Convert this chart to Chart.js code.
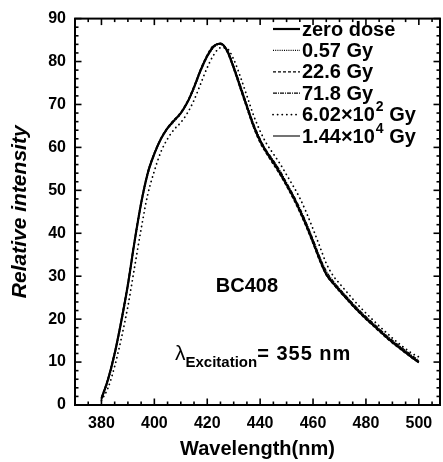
<!DOCTYPE html>
<html>
<head>
<meta charset="utf-8">
<script src="https://cdn.jsdelivr.net/npm/chart.js@4.4.0/dist/chart.umd.min.js"></script>
<style>
  html, body { margin: 0; padding: 0; background: #fff; }
  #lienzo { width: 443px; height: 462px; position: relative; }
</style>
</head>
<body>
<div id="lienzo"><canvas id="grafica"></canvas></div>
<script>
// longitudes de onda (nm)
const longitudes = [380, 382.5, 385, 387.5, 390, 392.5, 395, 397.5, 400, 402.5, 405, 407.5, 410, 412.5, 415, 417.5, 420, 422.5, 425, 427.5, 430, 432.5, 435, 437.5, 440, 442.5, 445, 447.5, 450, 452.5, 455, 457.5, 460, 462.5, 465, 467.5, 470, 472.5, 475, 477.5, 480, 482.5, 485, 487.5, 490, 492.5, 495, 497.5, 500];

// intensidades relativas
const dosisCero = [1.5, 6, 12, 19.5, 28, 38, 47, 54, 58.5, 62, 64.5, 66.3, 68, 70.5, 74, 78, 81.3, 83.6, 84.2, 82.5, 78.5, 74, 69.5, 65, 61.5, 58.8, 56.5, 54, 51.3, 48.5, 45.3, 41.8, 38, 34, 30.5, 28.5, 26.7, 25, 23.3, 21.7, 20.2, 18.8, 17.4, 16, 14.7, 13.5, 12.3, 11.1, 10];
const dosis057 = [1.2, 5.5, 11.5, 19, 27.5, 37.5, 46.5, 53.5, 58.3, 61.8, 64.3, 66, 67.8, 70.3, 73.7, 77.6, 81, 83.3, 84, 82.6, 78.8, 74.3, 69.8, 65.3, 61.8, 59, 56.8, 54.3, 51.6, 48.8, 45.6, 42.2, 38.4, 34.4, 31, 28.8, 27, 25.3, 23.6, 22, 20.5, 19, 17.6, 16.2, 14.9, 13.7, 12.5, 11.3, 10.2];
const dosis226 = [1.8, 6.3, 12.4, 20, 28.6, 38.5, 47.4, 54.3, 58.8, 62.2, 64.7, 66.5, 68.2, 70.8, 74.3, 78.3, 81.6, 83.8, 84, 82.2, 78.2, 73.6, 69, 64.6, 61, 58.4, 56, 53.6, 50.9, 48, 44.8, 41.3, 37.5, 33.5, 30.2, 28.2, 26.4, 24.7, 23, 21.4, 19.9, 18.5, 17.1, 15.7, 14.4, 13.2, 12, 10.9, 9.8];
const dosis718 = [1.4, 5.8, 11.8, 19.3, 27.8, 37.7, 46.8, 53.8, 58.4, 61.9, 64.4, 66.2, 67.9, 70.4, 73.8, 77.8, 81.1, 83.4, 84.1, 82.7, 79, 74.6, 70, 65.6, 62, 59.2, 57, 54.6, 51.8, 49, 45.9, 42.4, 38.6, 34.6, 31.2, 29, 27.1, 25.4, 23.7, 22.1, 20.6, 19.2, 17.8, 16.4, 15.1, 13.9, 12.7, 11.5, 10.4];
const dosis602 = [1, 4, 9, 15.5, 23, 32, 41, 49, 54.5, 59, 62, 64.2, 65.8, 68, 71, 74.8, 78.6, 81.6, 83.2, 83, 80.5, 76.5, 72, 67.5, 63.8, 60.8, 58.5, 56.2, 53.6, 51, 48.2, 44.8, 41, 37, 33, 30.2, 28.3, 26.5, 24.7, 23, 21.4, 19.9, 18.4, 17, 15.6, 14.3, 13.1, 12, 11.2];
const dosis144 = [1.6, 6.2, 12.3, 19.8, 28.3, 38.2, 47.2, 54.2, 58.7, 62.1, 64.6, 66.3, 68, 70.6, 74.1, 78.1, 81.4, 83.6, 84.3, 82.8, 78.9, 74.3, 69.7, 65.2, 61.6, 58.9, 56.6, 54.2, 51.4, 48.6, 45.2, 41.6, 37.8, 33.8, 30.3, 28.3, 26.5, 24.8, 23.1, 21.5, 20, 18.6, 17.2, 15.8, 14.5, 13.3, 12.1, 10.9, 9.8];

// leyenda: texto, exponente, resto
const etiquetas = ['zero dose', '0.57 Gy', '22.6 Gy', '71.8 Gy', '6.02×10', '1.44×10'];
const exponentes = ['', '', '', '', '2', '4'];
const sufijos = ['', '', '', '', ' Gy', ' Gy'];

const ticksX = [380, 400, 420, 440, 460, 480, 500];
const ticksY = [0, 10, 20, 30, 40, 50, 60, 70, 80, 90];

const FUENTE = '"Liberation Sans", Arial, Helvetica, sans-serif';

const series = [dosisCero, dosis057, dosis226, dosis718, dosis602, dosis144];
const estilos = [
  { borderWidth: 2.2, borderDash: [] },
  { borderWidth: 1.2, borderDash: [1, 1.2] },
  { borderWidth: 1.2, borderDash: [3, 2] },
  { borderWidth: 1.2, borderDash: [4, 1, 1, 1] },
  { borderWidth: 1.8, borderDash: [0.1, 4.5], borderCapStyle: 'round' },
  { borderWidth: 1.1, borderDash: [] },
];

const datasets = series.map((valores, i) => ({
  label: etiquetas[i] + exponentes[i] + sufijos[i],
  data: longitudes.map((nm, k) => ({ x: nm, y: valores[k] })),
  borderColor: '#000',
  backgroundColor: '#000',
  pointRadius: 0,
  fill: false,
  cubicInterpolationMode: 'monotone',
  ...estilos[i],
}));

// marcas hacia dentro, marco, leyenda y anotaciones
const decoracion = {
  id: 'decoracion',
  afterDatasetsDraw(chart) {
    const { ctx, chartArea: a, scales: { x, y } } = chart;
    ctx.save();
    ctx.strokeStyle = '#000';
    ctx.fillStyle = '#000';

    const linea = (x1, y1, x2, y2) => {
      ctx.beginPath();
      ctx.moveTo(x1, y1);
      ctx.lineTo(x2, y2);
      ctx.stroke();
    };

    ctx.lineWidth = 1.6;
    for (let v = 375; v <= 505; v += 5) {
      const px = x.getPixelForValue(v);
      const largo = v % 20 === 0 ? 6.5 : 3.5;
      linea(px, a.bottom, px, a.bottom - largo);
      linea(px, a.top, px, a.top + largo);
    }
    for (let v = 0; v <= 90; v += 2) {
      const py = y.getPixelForValue(v);
      const largo = v % 10 === 0 ? 6.5 : 3.5;
      linea(a.left, py, a.left + largo, py);
      linea(a.right, py, a.right - largo, py);
    }

    ctx.lineWidth = 2;
    ctx.strokeRect(a.left, a.top, a.right - a.left, a.bottom - a.top);

    // leyenda
    ctx.textBaseline = 'middle';
    ctx.textAlign = 'left';
    chart.data.datasets.forEach((ds, i) => {
      const yy = 29 + i * 21.4;
      ctx.save();
      ctx.lineWidth = ds.borderWidth;
      ctx.setLineDash(ds.borderDash || []);
      ctx.lineCap = ds.borderCapStyle || 'butt';
      linea(273, yy, 300, yy);
      ctx.restore();
      ctx.font = 'bold 20px ' + FUENTE;
      let xx = 302;
      ctx.fillText(etiquetas[i], xx, yy + 1);
      xx += ctx.measureText(etiquetas[i]).width;
      if (exponentes[i]) {
        ctx.font = 'bold 14px ' + FUENTE;
        ctx.fillText(exponentes[i], xx + 1, yy - 7);
        xx += ctx.measureText(exponentes[i]).width + 1;
        ctx.font = 'bold 20px ' + FUENTE;
        ctx.fillText(sufijos[i], xx, yy + 1);
      }
    });

    // anotaciones
    ctx.textBaseline = 'alphabetic';
    ctx.textAlign = 'center';
    ctx.font = 'bold 20px ' + FUENTE;
    ctx.fillText('BC408', x.getPixelForValue(435), y.getPixelForValue(26.3));

    ctx.textAlign = 'left';
    let lx = x.getPixelForValue(407.8);
    const base = y.getPixelForValue(10.4);
    ctx.font = '21px ' + FUENTE;
    ctx.fillText('λ', lx, base);
    lx += ctx.measureText('λ').width;
    ctx.font = 'bold 15px ' + FUENTE;
    ctx.fillText('Excitation', lx, base + 7);
    lx += ctx.measureText('Excitation').width;
    ctx.font = 'bold 20px ' + FUENTE;
    ctx.letterSpacing = '1px';
    ctx.fillText('= 355 nm', lx, base);

    ctx.restore();
  },
};

new Chart(document.getElementById('grafica'), {
  type: 'line',
  data: { datasets },
  options: {
    responsive: true,
    maintainAspectRatio: false,
    animation: false,
    layout: { padding: { top: 13.5, right: 3, left: 0, bottom: 0 } },
    plugins: { legend: { display: false }, tooltip: { enabled: false } },
    scales: {
      x: {
        type: 'linear',
        min: 370,
        max: 508,
        afterBuildTicks: (eje) => { eje.ticks = ticksX.map(v => ({ value: v })); },
        afterFit: (eje) => { eje.height = 57; },
        grid: { display: false, drawTicks: false },
        border: { display: false },
        ticks: {
          color: '#000',
          padding: 9,
          maxRotation: 0,
          autoSkip: false,
          font: { family: FUENTE, size: 16, weight: 'bold' },
        },
        title: {
          display: true,
          text: 'Wavelength(nm)',
          color: '#000',
          padding: { top: 0, bottom: 1 },
          font: { family: FUENTE, size: 20, weight: 'bold' },
        },
      },
      y: {
        min: 0,
        max: 90,
        afterBuildTicks: (eje) => { eje.ticks = ticksY.map(v => ({ value: v })); },
        afterFit: (eje) => { eje.width = 75; },
        grid: { display: false, drawTicks: false },
        border: { display: false },
        ticks: {
          color: '#000',
          padding: 9,
          font: { family: FUENTE, size: 16, weight: 'bold' },
        },
        title: {
          display: true,
          text: 'Relative intensity',
          color: '#000',
          padding: { top: 8, bottom: 0 },
          font: { family: FUENTE, size: 21, weight: 'bold', style: 'italic' },
        },
      },
    },
  },
  plugins: [decoracion],
});
</script>
</body>
</html>
